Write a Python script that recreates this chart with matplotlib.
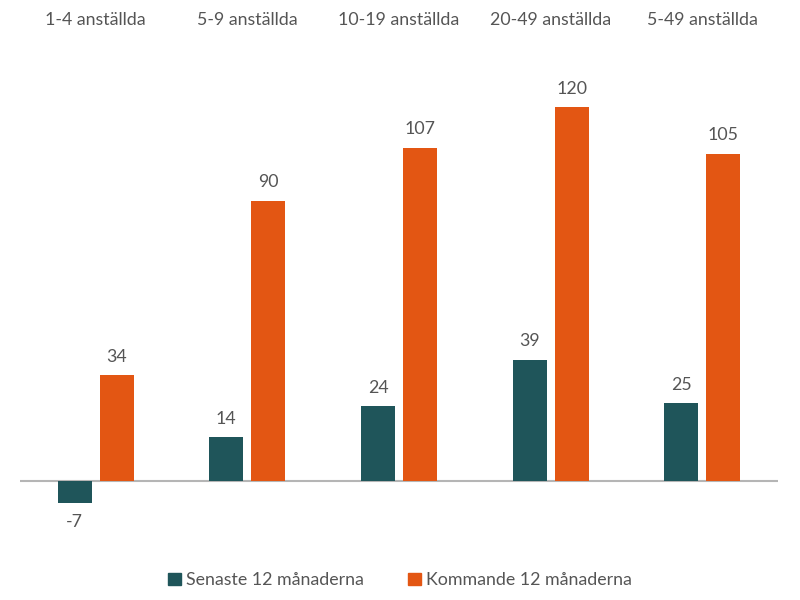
import matplotlib.pyplot as plt
import matplotlib.transforms as mtransforms
from matplotlib.patches import Patch
import numpy as np

plt.rcParams['font.family'] = ['Lato', 'DejaVu Sans']

categories = ['1-4 anställda', '5-9 anställda', '10-19 anställda', '20-49 anställda', '5-49 anställda']
senaste = [-7, 14, 24, 39, 25]
kommande = [34, 90, 107, 120, 105]

teal = '#1f555a'
orange = '#e35613'
textc = '#555555'
fs = 12.8

fig = plt.figure(figsize=(8, 6), dpi=100)
ax = fig.add_axes([0.025, 0.1, 0.9475, 0.8167])

x = np.arange(len(categories))
w = 0.224
off = 0.139
b1 = ax.bar(x - off, senaste, w, color=teal, label='Senaste 12 månaderna')
b2 = ax.bar(x + off, kommande, w, color=orange, label='Kommande 12 månaderna')

for bars, vals in [(b1, senaste), (b2, kommande)]:
    for b, v in zip(bars, vals):
        cx = b.get_x() + b.get_width() / 2
        if v >= 0:
            ax.annotate(str(v), (cx, v), xytext=(0, 7.5), textcoords='offset points',
                        ha='center', va='bottom', fontsize=fs, color=textc)
        else:
            ax.annotate(str(v), (cx, v), xytext=(0, -8), textcoords='offset points',
                        ha='center', va='top', fontsize=fs, color=textc)

trans = mtransforms.blended_transform_factory(ax.transData, ax.transAxes)
for i, c in enumerate(categories):
    ax.text(i, 1.061, c, transform=trans, ha='center', va='center', fontsize=fs, color=textc)

ax.axhline(0, color='#b5b5b5', lw=1.5, zorder=0)
ax.set_xlim(-0.5, len(categories) - 0.5)
ax.set_ylim(-18.9, 138.3)
ax.axis('off')

handles = [Patch(color=teal), Patch(color=orange)]
fig.legend(handles, ['Senaste 12 månaderna', 'Kommande 12 månaderna'],
           loc='center', bbox_to_anchor=(0.5, 0.033), ncol=2, frameon=False,
           handlelength=0.7, handleheight=0.7, handletextpad=0.3, columnspacing=2.5,
           fontsize=fs, labelcolor=textc)

fig.savefig('out.png', dpi=100)
